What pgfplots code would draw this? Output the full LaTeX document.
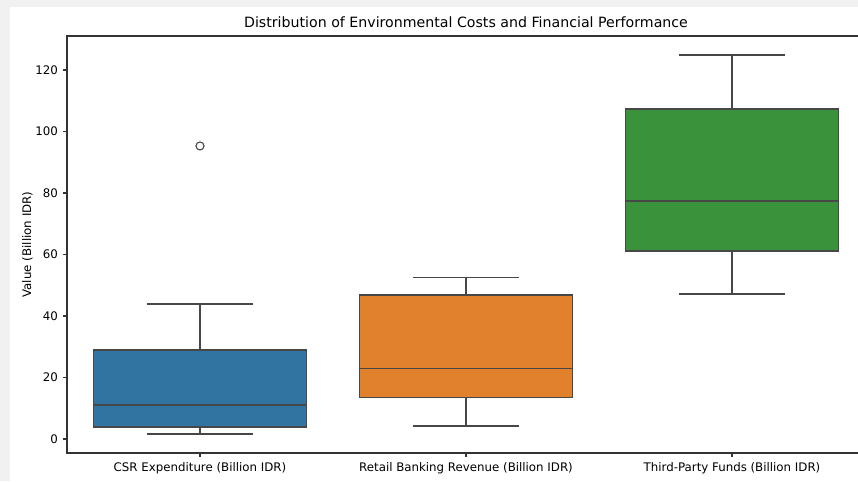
\documentclass[border=0pt]{standalone}
\usepackage{fontspec}
\setmainfont{DejaVu Sans}
\usepackage{pgfplots}
\pgfplotsset{compat=1.18}
\usepgfplotslibrary{statistics}

\definecolor{csrblue}{HTML}{3274A1}
\definecolor{retailorange}{HTML}{E1812C}
\definecolor{fundsgreen}{HTML}{3A923A}
\definecolor{boxline}{HTML}{474747}
\definecolor{spine}{HTML}{333333}
\definecolor{frame}{HTML}{F1F1F1}

\begin{document}
\begin{tikzpicture}
  % page area (axis box's lower left corner is the origin)
  \useasboundingbox (-48.24pt,-20.16pt) rectangle (569.52pt,326.16pt);
  \begin{scope}
  \clip (-48.24pt,-20.16pt) rectangle (569.52pt,326.16pt);
  \begin{axis}[
    scale only axis,
    width=574.56pt, height=300.24pt,
    xmin=-0.5, xmax=2.5,
    ymin=-4.55, ymax=131.06,
    xtick={0,1,2},
    xticklabels={CSR Expenditure (Billion IDR),Retail Banking Revenue (Billion IDR),Third-Party Funds (Billion IDR)},
    ytick={0,20,40,60,80,100,120},
    xtick pos=bottom, ytick pos=left,
    tick align=outside,
    major tick length=3pt,
    tick style={spine, line width=0.8pt},
    axis line style={spine, line width=0.8pt},
    ticklabel style={font=\fontsize{8.5}{10}\selectfont, black},
    /pgf/number format/assume math mode=true,
    xticklabel style={yshift=-0.5pt},
    ylabel={Value (Billion IDR)},
    ylabel style={font=\fontsize{8.5}{10}\selectfont, yshift=-5pt},
    title={Distribution of Environmental Costs and Financial Performance},
    title style={font=\fontsize{10.2}{12}\selectfont, yshift=-3.5pt},
    boxplot/draw direction=y,
    boxplot/every median/.style={draw=boxline, line width=0.95pt, solid},
    boxplot/every whisker/.style={draw=boxline, line width=0.95pt, solid},
  ]
    % CSR expenditure
    \addplot+[boxplot prepared={draw position=0,
        lower whisker=1.6, lower quartile=3.9, median=11.1,
        upper quartile=29.0, upper whisker=43.9,
        box extend=0.8, whisker extend=0.4},
      draw=boxline, line width=0.95pt, fill=csrblue, mark=none, solid]
      coordinates {};
    % Retail banking revenue
    \addplot+[boxplot prepared={draw position=1,
        lower whisker=4.2, lower quartile=13.4, median=23.0,
        upper quartile=46.8, upper whisker=52.6,
        box extend=0.8, whisker extend=0.4},
      draw=boxline, line width=0.95pt, fill=retailorange, mark=none, solid]
      coordinates {};
    % Third-party funds
    \addplot+[boxplot prepared={draw position=2,
        lower whisker=47.2, lower quartile=61.1, median=77.4,
        upper quartile=107.3, upper whisker=124.9,
        box extend=0.8, whisker extend=0.4},
      draw=boxline, line width=0.95pt, fill=fundsgreen, mark=none, solid]
      coordinates {};
    % CSR outlier
    \addplot[only marks, mark=*, mark size=2.9pt,
      mark options={draw=boxline, fill=white, line width=0.8pt}]
      coordinates {(0,95.3)};
  \end{axis}
  \end{scope}
  % light frame along the left and top edges
  \fill[frame] (-48.24pt,-20.16pt) rectangle (-41.04pt,326.16pt);
  \fill[frame] (-48.24pt,321.12pt) rectangle (569.52pt,326.16pt);
\end{tikzpicture}
\end{document}
